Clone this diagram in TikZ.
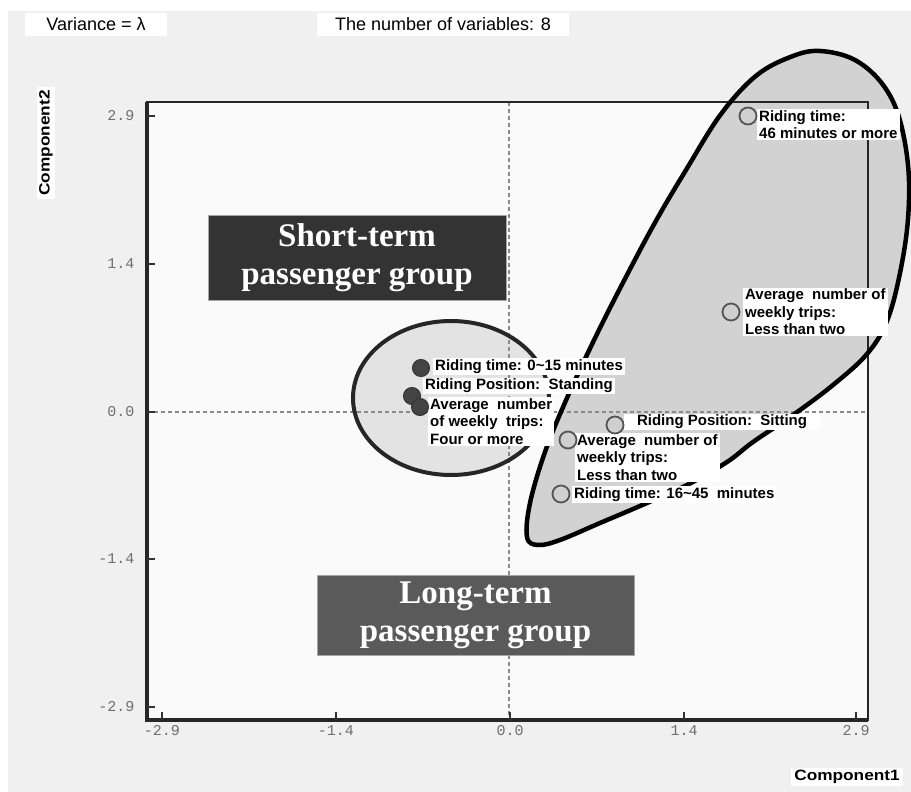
\documentclass[tikz,border=0pt]{standalone}
\usepackage{fontspec}
\setmainfont{Liberation Sans}
\newfontfamily\serifface{Liberation Serif}
\newfontfamily\monoface{Liberation Mono}
\definecolor{bggray}{HTML}{F0F0F0}
\definecolor{plotbg}{HTML}{FAFAFA}
\definecolor{blobfill}{HTML}{D2D2D2}
\definecolor{ellfill}{HTML}{E3E3E3}
\definecolor{shortbox}{HTML}{333333}
\definecolor{longbox}{HTML}{5A5A5A}
\definecolor{ticktext}{HTML}{6E6E6E}
\definecolor{dashcol}{HTML}{8A8A8A}
\definecolor{ptfill}{HTML}{D0D0D0}
\definecolor{ptline}{HTML}{555555}
\definecolor{darkpt}{HTML}{444444}
\begin{document}
\begin{tikzpicture}[x=1pt,y=-1pt,
  lbl/.style={anchor=west,fill=white,inner xsep=2pt,inner ysep=1pt,align=left,
    font=\bfseries\fontsize{15}{17.5}\selectfont},
  hollowpt/.style={circle,draw=ptline,fill=ptfill,line width=1.8pt,minimum size=17pt,inner sep=0pt},
  filledpt/.style={circle,draw=shortbox,fill=darkpt,line width=1pt,minimum size=17pt,inner sep=0pt},
  groupbox/.style={text=white,align=center,inner sep=0pt,draw=gray!70,line width=0.6pt,
    font=\serifface\bfseries\fontsize{33}{38}\selectfont},
  ylbl/.style={anchor=east,text=ticktext,font=\monoface\fontsize{15}{15}\selectfont},
  xlbl/.style={anchor=north,text=ticktext,font=\monoface\fontsize{15}{15}\selectfont},
  toplbl/.style={fill=white,inner sep=0pt,minimum height=23pt,font=\fontsize{18}{18}\selectfont},
  complbl/.style={fill=white,inner xsep=3pt,inner ysep=2pt,font=\bfseries\fontsize{15}{15}\selectfont},
  dashln/.style={dashcol,line width=1.2pt,dash pattern=on 4pt off 3pt},
  tickln/.style={black!80,line width=1.2pt}
]
\useasboundingbox (0,0) rectangle (911,792);
\fill[white] (0,0) rectangle (911,792);
\fill[bggray] (8,11) rectangle (911,792);
\fill[plotbg] (147,102) rectangle (868,720);

% fills of the groups
\def\blobpath{plot[smooth cycle,tension=0.6] coordinates {
  (527,537) (530,503) (545,452) (567,398) (597,334) (628,273) (657,219) (686,170)
  (721,114) (757,75) (793,56) (820,51) (853,59) (880,81) (898,114) (908,165)
  (908,219) (900,273) (887,321) (867,354) (833,385) (793,415) (753,442) (727,462)
  (687,485) (640,506) (600,523) (560,540) (538,545)}}
\fill[blobfill] \blobpath;
\fill[ellfill] (451,398) ellipse [x radius=98, y radius=77];

% dashed axes
\draw[dashln] (509,102) -- (509,720);
\draw[dashln] (147,412) -- (868,412);

% frame
\draw[black!85,line width=2.4pt] (147,102) rectangle (868,720);
\draw[black!85,line width=3.4pt] (147,102) -- (147,720) -- (868,720);

% ticks and labels
\foreach \y/\t in {116/2.9,264/1.4,412/0.0,559/-1.4,707/-2.9}{
  \draw[tickln] (147,\y) -- (155,\y);
  \node[ylbl] at (138,\y) {\t};
}
\foreach \x/\t in {162/-2.9,336/-1.4,510/0.0,684/1.4,856/2.9}{
  \draw[tickln] (\x,720) -- (\x,712);
  \node[xlbl] at (\x,722) {\t};
}

% outlines
\draw[black,line width=4.5pt] \blobpath;
\draw[black!85,line width=4pt] (451,398) ellipse [x radius=98, y radius=77];

% group boxes
\node[groupbox,fill=shortbox,minimum width=298pt,minimum height=85pt] (short) at (357,258)
  {Short-term\\passenger group};
\node[groupbox,fill=longbox,minimum width=317pt,minimum height=80pt] (long) at (475.5,615)
  {Long-term\\passenger group};

% point labels
\node[lbl] (l1) at (757,124.5) {Riding time:\\46 minutes or more};
\node[lbl] (l2) at (743,312) {Average\ \ number of\\weekly trips:\\Less than two};
\node[lbl,anchor=center,minimum width=196pt] (l3) at (722,422) {Riding Position:\ \ Sitting};
\node[lbl] (l4) at (575,457.5) {Average\ \ number of\\weekly trips:\\Less than two};
\node[lbl] (l5) at (572,494.5) {Riding time: 16\textasciitilde45\ \ minutes};
\node[lbl] (d1) at (433,366.5) {Riding time: 0\textasciitilde15 minutes};
\node[lbl] (d2) at (423,386) {Riding Position:\ \ Standing};
\node[lbl] (d3) at (428,421.5) {Average\ \ number\\of weekly\ \ trips:\\Four or more};

% points
\node[hollowpt] (p1) at (748,116) {};
\node[hollowpt] (p2) at (731,312) {};
\node[hollowpt] (p3) at (615,425) {};
\node[hollowpt] (p4) at (568,440) {};
\node[hollowpt] (p5) at (561,494) {};
\node[filledpt] (q1) at (421,368) {};
\node[filledpt] (q2) at (412,396) {};
\node[filledpt] (q3) at (420,407) {};

% titles
\node[toplbl,minimum width=142pt] (var) at (96,24.5) {Variance = λ};
\node[toplbl,minimum width=252pt] (nvar) at (443,24.5) {The number of variables: 8};
\node[complbl] (c1) at (847,777) {\scalebox{1.15}[1]{Component1}};
\node[complbl,rotate=90] (c2) at (46,143) {\scalebox{1.15}[1]{Component2}};
\end{tikzpicture}
\end{document}
